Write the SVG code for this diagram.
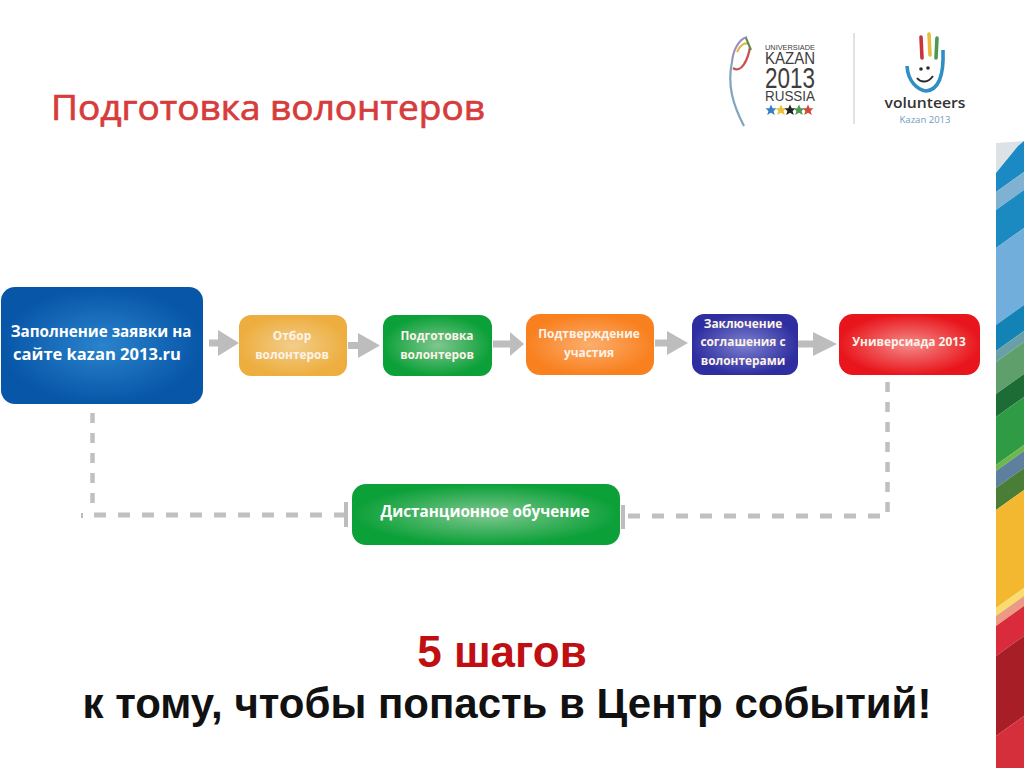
<svg xmlns="http://www.w3.org/2000/svg" width="1024" height="768" viewBox="0 0 1024 768">
<style>
.s{font-family:"Open Sans","Noto Sans",sans-serif;font-weight:700;fill:#fff;text-anchor:middle}
.n{font-size:11.9px;fill:#fdf3e8}
.a{fill:#bdbdbd}
.d{fill:none;stroke:#c0c0c0;stroke-width:5;stroke-dasharray:12 12}
.dv{fill:none;stroke:#c0c0c0;stroke-width:4.5;stroke-dasharray:10 10}
.b{font-family:"Liberation Sans",Arial,sans-serif;font-weight:700;text-anchor:middle}
.u{font-family:"Liberation Sans",Arial,sans-serif;fill:#3d3d3d}
</style>
<defs>
<radialGradient id="gb"><stop offset="0" stop-color="#2a83cc"/><stop offset="1" stop-color="#0756a8"/></radialGradient>
<radialGradient id="gy"><stop offset="0" stop-color="#f3cd8a"/><stop offset="1" stop-color="#edae3f"/></radialGradient>
<radialGradient id="gg"><stop offset="0" stop-color="#7fc78f"/><stop offset="1" stop-color="#0ba038"/></radialGradient>
<radialGradient id="go"><stop offset="0" stop-color="#fbae6e"/><stop offset="1" stop-color="#f9801e"/></radialGradient>
<radialGradient id="gp"><stop offset="0" stop-color="#7c80cf"/><stop offset="1" stop-color="#2f2ea0"/></radialGradient>
<radialGradient id="gr"><stop offset="0" stop-color="#f58a8a"/><stop offset="1" stop-color="#e8161c"/></radialGradient>
<polygon id="st" points="0,-5.5 1.7,-1.8 5.5,-1.8 2.6,.9 3.8,5 0,2.8 -3.8,5 -2.6,.9 -5.5,-1.8 -1.7,-1.8"/>
</defs>
<rect width="1024" height="768" fill="#fff"/>
<g id="title"><text x="51" y="120" font-family="'Open Sans','Noto Sans',sans-serif" font-size="34" font-weight="400" fill="#d63c3c" stroke="#d63c3c" stroke-width=".7" textLength="434" lengthAdjust="spacingAndGlyphs">Подготовка волонтеров</text></g>
<g id="logo-universiade">
<path d="M744 126C733 105 727 85 732 62" fill="none" stroke="#7fa6bf" stroke-width="2.2"/>
<path d="M732 62C733 50 739 39 747 37" fill="none" stroke="#9f8fc0" stroke-width="2.2"/>
<path d="M733 68C741 74 748 60 750 47" fill="none" stroke="#c9504a" stroke-width="2.2"/>
<path d="M737 52C740 45 745 42 749 44" fill="none" stroke="#dcb94a" stroke-width="2"/>
<path d="M746 38L751 50" stroke="#5a8a4a" stroke-width="2"/>
<text class="u" x="765" y="49.5" font-size="6.5" textLength="50" lengthAdjust="spacingAndGlyphs">UNIVERSIADE</text>
<text class="u" x="765" y="63.5" font-size="16" textLength="50" lengthAdjust="spacingAndGlyphs">KAZAN</text>
<text class="u" x="765" y="88" font-size="30" textLength="50" lengthAdjust="spacingAndGlyphs">2013</text>
<text class="u" x="765" y="101" font-size="14" textLength="50" lengthAdjust="spacingAndGlyphs">RUSSIA</text>
<use href="#st" x="771" y="110" fill="#3a7fc0"/><use href="#st" x="781" y="110" fill="#e8c23a"/><use href="#st" x="790" y="110" fill="#222"/><use href="#st" x="799" y="110" fill="#4c9a52"/><use href="#st" x="808" y="110" fill="#cf4a3c"/>
</g>
<rect id="logo-divider" x="853" y="33" width="2" height="91" fill="#e2e2e2"/>
<g id="logo-volunteers">
<path d="M907 66C908 82 918 90 926 91C938 90 944 76 943 50" fill="none" stroke="#2f8fc4" stroke-width="3.6"/>
<path d="M921 37L922 58" stroke="#c8343c" stroke-width="3.6" stroke-linecap="round"/>
<path d="M929 34L930 55" stroke="#e9bb3c" stroke-width="3.6" stroke-linecap="round"/>
<path d="M937 38L936 58" stroke="#4c9a52" stroke-width="3.6" stroke-linecap="round"/>
<circle cx="921" cy="69" r="1.8" fill="#2c2c2c"/><circle cx="928" cy="68" r="1.8" fill="#2c2c2c"/>
<path d="M917 78C921 83 928 83 933 76" fill="none" stroke="#2c2c2c" stroke-width="2"/>
<text x="925" y="108" font-family="'Open Sans',sans-serif" font-size="15" font-weight="600" fill="#333" text-anchor="middle" textLength="81" lengthAdjust="spacingAndGlyphs">volunteers</text>
<text x="925" y="123" font-family="'Open Sans',sans-serif" font-size="9" fill="#6f9cc0" text-anchor="middle" textLength="51" lengthAdjust="spacingAndGlyphs">Kazan 2013</text>
</g>
<g id="stripe">
<polygon points="996,143 1024,141 1018,146 996,173" fill="#dde2e6"/>
<polygon points="996,192 1024,172 1024,141 1018,146 996,173" fill="#1b8ac4"/>
<polygon points="996,210 1024,190 1024,172 996,192" fill="#7fb2d2"/>
<polygon points="996,248 1024,228 1024,190 996,210" fill="#1b8ac0"/>
<polygon points="996,325 1024,305 1024,228 996,248" fill="#72aedb"/>
<polygon points="996,351 1024,331 1024,305 996,325" fill="#1383b5"/>
<polygon points="996,362 1024,342 1024,331 996,351" fill="#6b9fa8"/>
<polygon points="996,394 1024,374 1024,342 996,362" fill="#5f9f6c"/>
<polygon points="996,417 1024,397 1024,374 996,394" fill="#1d6c35"/>
<polygon points="996,465 1024,445 1024,397 996,417" fill="#2f9b45"/>
<polygon points="996,471 1024,451 1024,445 996,465" fill="#6cb84a"/>
<polygon points="996,488 1024,468 1024,451 996,471" fill="#5f7f9f"/>
<polygon points="996,510 1024,490 1024,468 996,488" fill="#4a7d35"/>
<polygon points="996,608 1024,588 1024,490 996,510" fill="#f3b82f"/>
<polygon points="996,616 1024,596 1024,588 996,608" fill="#f8dc6e"/>
<polygon points="996,626 1024,606 1024,596 996,616" fill="#ea9a85"/>
<polygon points="996,656 1024,636 1024,606 996,626" fill="#d92b3c"/>
<polygon points="996,736 1024,716 1024,636 996,656" fill="#a81e26"/>
<polygon points="996,768 1024,768 1024,716 996,736" fill="#d62f3c"/>
</g>
<g id="connectors">
<polygon class="a" points="209,339.5 218,339.5 218,330 239,343 218,356 218,346.5 209,346.5"/>
<polygon class="a" points="348,342 358,342 358,333 380,345.5 358,358 358,349 348,349"/>
<polygon class="a" points="493,340.5 510,340.5 510,332 524,344 510,356 510,347.5 493,347.5"/>
<polygon class="a" points="655,339.5 667,339.5 667,331 688,343 667,355 667,346.5 655,346.5"/>
<polygon class="a" points="797,340.5 813,340.5 813,332 837,344 813,356 813,347.5 797,347.5"/>
<path class="dv" d="M92.5 413V503"/>
<path class="d" d="M94 515H344"/>
<rect x="344" y="502" width="4" height="25" class="a"/>
<rect x="81" y="513" width="2" height="5" class="a"/>
<path class="dv" d="M887.5 382V512"/>
<path class="d" d="M880 516H628"/>
<rect x="621" y="505" width="4" height="24" class="a"/>
</g>
<g id="n1"><rect x="1" y="287" width="202" height="117" rx="14" fill="url(#gb)"/>
<text class="s" font-size="15.2" x="101" y="337">Заполнение заявки на</text><text class="s" font-size="15.2" x="97" y="360" textLength="168" lengthAdjust="spacingAndGlyphs">сайте kazan 2013.ru</text></g>
<g id="n2"><rect x="239" y="315" width="108" height="61" rx="12" fill="url(#gy)"/>
<text class="s n" x="292" y="340">Отбор</text><text class="s n" x="292" y="359">волонтеров</text></g>
<g id="n3"><rect x="383" y="315" width="109" height="61" rx="12" fill="url(#gg)"/>
<text class="s n" x="437" y="340">Подготовка</text><text class="s n" x="437" y="359">волонтеров</text></g>
<g id="n4"><rect x="526" y="314" width="128" height="61" rx="14" fill="url(#go)"/>
<text class="s n" x="589" y="338">Подтверждение</text><text class="s n" x="589" y="357">участия</text></g>
<g id="n5"><rect x="692" y="314" width="106" height="61" rx="12" fill="url(#gp)"/>
<text class="s n" x="743" y="328">Заключение</text><text class="s n" x="743" y="346">соглашения с</text><text class="s n" x="743" y="365">волонтерами</text></g>
<g id="n6"><rect x="839" y="314" width="141" height="61" rx="14" fill="url(#gr)"/>
<text class="s n" x="909" y="346">Универсиада 2013</text></g>
<g id="n7"><rect x="352" y="484" width="268" height="61" rx="14" fill="url(#gg)"/>
<text class="s" font-size="15.3" x="485" y="517">Дистанционное обучение</text></g>
<g id="caption">
<text class="b" x="502" y="667" font-size="44" fill="#c00e12">5 шагов</text>
<text class="b" x="507" y="718" font-size="42" fill="#111">к тому, чтобы попасть в Центр событий!</text>
</g>
</svg>
